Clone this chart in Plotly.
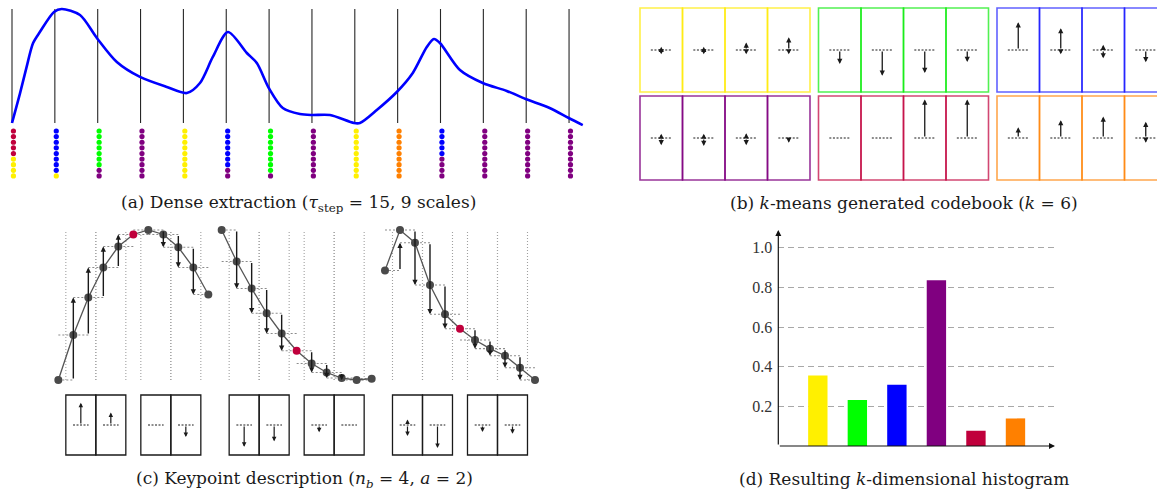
import numpy as np
import plotly.graph_objects as go

W, H = 1157, 490

# ---------------------------------------------------------------- data
# visual words, in codebook order
WORD_NAMES = ["yellow", "green", "blue", "purple", "red", "orange"]
WORD_COLORS = ["#FFF000", "#00FF00", "#0000FF", "#800080", "#C0003C", "#FF8000"]
WORD_BORDERS = ["rgba(255,234,0,0.72)", "rgba(0,235,0,0.68)", "rgba(0,0,255,0.62)",
                "rgba(128,0,128,0.8)", "rgba(192,0,60,0.72)", "rgba(255,128,0,0.7)"]

# (a) time series samples (t, value)
SIGNAL_T = [0, 2.8, 5.1, 7.35, 9.8, 14.7, 17.4, 23.8, 29.7, 36.7, 44.8, 54.2, 61.2,
            65.8, 70.3, 75.6, 82.2, 85.7, 89.9, 94.8, 100.8, 105, 111.3, 119.7, 121.8,
            127.7, 134.7, 140.3, 145.2, 147.7, 149.8, 156.8, 164.8, 173.2, 179.8,
            188.2, 194.9, 199.8]
SIGNAL_V = [0.0, 0.26, 0.49, 0.70, 0.80, 0.974, 1.0, 0.947, 0.746, 0.535, 0.404, 0.316,
            0.263, 0.351, 0.579, 0.798, 0.614, 0.526, 0.307, 0.132, 0.079, 0.07, 0.07,
            0.0, 0.0, 0.114, 0.272, 0.439, 0.667, 0.737, 0.702, 0.465, 0.351, 0.281,
            0.211, 0.132, 0.044, -0.018]
TAU_STEP = 15
N_SCALES = 9

# word assigned to each keypoint at each of the 9 scales (0=yellow ... 5=orange)
KEYPOINT_WORDS = [
    [4, 4, 4, 4, 4, 0, 0, 0, 0],
    [2, 2, 2, 2, 2, 2, 2, 2, 0],
    [1, 1, 1, 1, 1, 1, 1, 3, 3],
    [3, 3, 3, 3, 3, 3, 3, 3, 3],
    [0, 0, 0, 0, 0, 0, 0, 0, 0],
    [2, 2, 2, 2, 2, 2, 2, 3, 3],
    [1, 1, 1, 1, 1, 1, 1, 1, 3],
    [3, 3, 3, 3, 3, 3, 3, 3, 3],
    [0, 0, 0, 0, 0, 0, 0, 0, 0],
    [5, 5, 5, 5, 5, 5, 5, 5, 5],
    [2, 2, 2, 2, 2, 3, 3, 3, 3],
    [3, 3, 3, 3, 3, 3, 3, 3, 3],
    [3, 3, 3, 3, 3, 3, 3, 3, 3],
    [3, 3, 3, 3, 3, 3, 3, 3, 3],
]

# (b) codebook: per word, positive / negative gradient mass of its 4 blocks
CODEBOOK_UP = [[0.08, 0.08, 0.19, 0.32],
               [0.0, 0.0, 0.0, 0.0],
               [0.70, 0.55, 0.13, 0.0],
               [0.11, 0.11, 0.12, 0.0],
               [0.0, 0.0, 0.97, 0.97],
               [0.27, 0.45, 0.54, 0.41]]
CODEBOOK_DOWN = [[0.11, 0.11, 0.11, 0.11],
                 [0.35, 0.65, 0.58, 0.30],
                 [0.0, 0.11, 0.21, 0.31],
                 [0.18, 0.20, 0.18, 0.12],
                 [0.0, 0.0, 0.0, 0.0],
                 [0.0, 0.0, 0.0, 0.12]]

# (c) three normalised keypoint neighbourhoods (11 samples, keypoint in the middle)
KP_VALUES = [
    [0.00, 0.30, 0.55, 0.75, 0.89, 0.97, 1.00, 0.97, 0.885, 0.75, 0.57],
    [1.00, 0.79, 0.61, 0.445, 0.31, 0.195, 0.11, 0.05, 0.013, 0.0, 0.009],
    [0.73, 1.00, 0.915, 0.633, 0.438, 0.342, 0.267, 0.209, 0.162, 0.082, 0.0],
]
N_BLOCKS = 4
A_STEP = 2

# (d) histogram tick labels
HIST_TICKS = [0.2, 0.4, 0.6, 0.8, 1.0]
HIST_TICKTEXT = ["0.2", "0.4", "0.6", "0.8", "1.0"]


# ---------------------------------------------------------------- helpers
def dom_x(p0, p1):
    return [p0 / W, p1 / W]


def dom_y(p0, p1):
    return [1 - p1 / H, 1 - p0 / H]


def rng(p0, p1, origin, ppu, up=False):
    if up:
        return [(origin - p1) / ppu, (origin - p0) / ppu]
    return [(p0 - origin) / ppu, (p1 - origin) / ppu]


def ref(i):
    return ("x", "y") if i == 1 else (f"x{i}", f"y{i}")


def arrow(i, x, y_from, y_to, width=1.3, size=0.85, color="#1a1a1a"):
    xr, yr = ref(i)
    return dict(xref=xr, yref=yr, axref=xr, ayref=yr, x=x, y=y_to, ax=x, ay=y_from,
                text="", showarrow=True, arrowhead=2, arrowsize=size, arrowwidth=width,
                arrowcolor=color, standoff=0, startstandoff=0)


hidden = dict(visible=False, fixedrange=True)
fig = go.Figure()
annotations = []
shapes = []

# ---------------------------------------------------------------- (a)
A_X0, A_PPT = 12.0, 42.85 / TAU_STEP
A_Y0, A_PPV = 123.0, 114.0
D_Y0, D_STEP = 131.0, 5.62
DOT_SHIFT = 0.5

kp_t = [TAU_STEP * k for k in range(len(KEYPOINT_WORDS))]
vx, vy = [], []
for t in kp_t:
    vx += [t, t, None]
    vy += [0, 1, None]
fig.add_trace(go.Scatter(x=vx, y=vy, mode="lines", line=dict(color="#262626", width=1.1),
                         xaxis="x", yaxis="y", hoverinfo="skip"))
fig.add_trace(go.Scatter(x=SIGNAL_T, y=SIGNAL_V, mode="lines",
                         line=dict(color="#0000FF", width=2.6, shape="spline", smoothing=0.8),
                         xaxis="x", yaxis="y", hoverinfo="skip"))

dx, dy, dc = [], [], []
for t, words in zip(kp_t, KEYPOINT_WORDS):
    for s, w in enumerate(words):
        dx.append(t + DOT_SHIFT)
        dy.append(s)
        dc.append(WORD_COLORS[w])
fig.add_trace(go.Scatter(x=dx, y=dy, mode="markers", marker=dict(size=5.2, color=dc),
                         xaxis="x2", yaxis="y2", hoverinfo="skip"))

# ---------------------------------------------------------------- (b)
CB_X0, CB_PPX = 640.0, 42.5
CB_Y0, CB_PPU = 50.0, 39.7
GROUP_DX = 4.2
ROW_DY = 88.0 / CB_PPU
CELL_HALF_H = 42.0 / CB_PPU
DASH_HALF = 0.245

cb_dx, cb_dy = [], []
for g in range(len(WORD_NAMES)):
    col, row = g % 3, g // 3
    x0 = col * GROUP_DX
    yc = -row * ROW_DY
    for c in range(4):
        shapes.append(dict(type="rect", xref="x3", yref="y3",
                           x0=x0 + c, x1=x0 + c + 1,
                           y0=yc - CELL_HALF_H, y1=yc + CELL_HALF_H,
                           line=dict(color=WORD_BORDERS[g], width=1.6), layer="below"))
        xc = x0 + c + 0.5
        cb_dx += [xc - DASH_HALF, xc + DASH_HALF, None]
        cb_dy += [yc, yc, None]
        up, dn = CODEBOOK_UP[g][c], CODEBOOK_DOWN[g][c]
        if up > 0:
            annotations.append(arrow(3, xc, yc, yc + up, width=1.3, size=0.8))
        if dn > 0:
            annotations.append(arrow(3, xc, yc, yc - dn, width=1.3, size=0.8))
fig.add_trace(go.Scatter(x=cb_dx, y=cb_dy, mode="lines",
                         line=dict(color="#1a1a1a", width=1, dash="2px,1.6px"),
                         xaxis="x3", yaxis="y3", hoverinfo="skip"))

# ---------------------------------------------------------------- (c)
C_X0, C_PPS = 58.33, 15.0
SEG_SHIFT = 163.33 / C_PPS
C_Y0, C_PPV = 380.0, 150.0
DS_Y0, DS_PPU = 425.0, 28.3
DS_HALF_H = 30.0 / DS_PPU

n_pts = len(KP_VALUES[0])
center = n_pts // 2
# blocks of A_STEP gradient positions on each side of the keypoint
left = list(range(1, center))
right = list(range(center + 1, n_pts - 1))
blocks = [left[i:i + A_STEP] for i in range(0, len(left), A_STEP)] + \
         [right[i:i + A_STEP] for i in range(0, len(right), A_STEP)]

grid_x, grid_y = [], []
hx, hy = [], []
cx, cy = [], []
gx, gy = [], []
rx, ry = [], []
ds_dx, ds_dy = [], []
for s, v in enumerate(KP_VALUES):
    off = s * SEG_SHIFT
    xs = [off + i for i in range(n_pts)]
    # block borders
    for b in blocks:
        for e in (b[0] - 0.5, b[-1] + 0.5):
            grid_x += [off + e, off + e, None]
            grid_y += [0, 1, None]
    # step levels
    for i in range(n_pts):
        xa = xs[max(i - 1, 0)]
        xb = xs[min(i + 1, n_pts - 1)]
        hx += [xa, xb, None]
        hy += [v[i], v[i], None]
    cx += xs + [None]
    cy += list(v) + [None]
    for i in range(n_pts):
        if i == center:
            rx.append(xs[i]); ry.append(v[i])
        else:
            gx.append(xs[i]); gy.append(v[i])
    # local gradients
    grads = {j: v[j + 1] - v[j - 1] for j in range(1, n_pts - 1)}
    for j in left + right:
        if abs(grads[j]) > 0.004:
            annotations.append(arrow(4, xs[j], v[j - 1], v[j + 1], width=1.4, size=0.75))
    ups = [sum(max(grads[j], 0) for j in b) for b in blocks]
    dns = [sum(max(-grads[j], 0) for j in b) for b in blocks]
    norm = np.linalg.norm(ups + dns)
    ups = [u / norm for u in ups]
    dns = [d / norm for d in dns]
    for bi, b in enumerate(blocks):
        xa, xb = off + b[0] - 0.5, off + b[-1] + 0.5
        shapes.append(dict(type="rect", xref="x5", yref="y5", x0=xa, x1=xb,
                           y0=-DS_HALF_H, y1=DS_HALF_H,
                           line=dict(color="#1a1a1a", width=1.3), layer="below"))
        xc = (xa + xb) / 2
        ds_dx += [xc - 0.52, xc + 0.52, None]
        ds_dy += [0, 0, None]
        if ups[bi] > 0.01:
            annotations.append(arrow(5, xc, 0, ups[bi], width=1.2, size=0.75))
        if dns[bi] > 0.01:
            annotations.append(arrow(5, xc, 0, -dns[bi], width=1.2, size=0.75))

fig.add_trace(go.Scatter(x=grid_x, y=grid_y, mode="lines",
                         line=dict(color="#a0a0a0", width=1.1, dash="1px,2px"),
                         xaxis="x4", yaxis="y4", hoverinfo="skip"))
fig.add_trace(go.Scatter(x=hx, y=hy, mode="lines",
                         line=dict(color="#8c8c8c", width=1.1, dash="2px,2px"),
                         xaxis="x4", yaxis="y4", hoverinfo="skip"))
fig.add_trace(go.Scatter(x=cx, y=cy, mode="lines", line=dict(color="#555555", width=1.3),
                         xaxis="x4", yaxis="y4", hoverinfo="skip"))
fig.add_trace(go.Scatter(x=gx, y=gy, mode="markers", marker=dict(size=8, color="#4a4a4a"),
                         xaxis="x4", yaxis="y4", hoverinfo="skip"))
fig.add_trace(go.Scatter(x=rx, y=ry, mode="markers", marker=dict(size=8, color="#C0003C"),
                         xaxis="x4", yaxis="y4", hoverinfo="skip"))
fig.add_trace(go.Scatter(x=ds_dx, y=ds_dy, mode="lines",
                         line=dict(color="#1a1a1a", width=1, dash="2px,1.5px"),
                         xaxis="x5", yaxis="y5", hoverinfo="skip"))

# ---------------------------------------------------------------- (d)
counts = np.zeros(len(WORD_NAMES))
for words in KEYPOINT_WORDS:
    for w in words:
        counts[w] += 1
hist = counts / np.linalg.norm(counts)
HX = list(range(1, len(WORD_NAMES) + 1))
fig.add_trace(go.Bar(x=HX, y=hist, width=0.49, marker=dict(color=WORD_COLORS, line_width=0),
                     xaxis="x6", yaxis="y6", hoverinfo="skip"))
Y6_TOP = (446 - 230) / 198.3
X6_RIGHT = 7.0
annotations.append(arrow(6, 0, 0, Y6_TOP, width=1.2, size=1.0, color="#111111"))
xr6, yr6 = ref(6)
annotations.append(dict(xref=xr6, yref=yr6, axref=xr6, ayref=yr6, x=X6_RIGHT, y=0, ax=0, ay=0,
                        text="", showarrow=True, arrowhead=2, arrowsize=1.0, arrowwidth=1.2,
                        arrowcolor="#111111", standoff=0, startstandoff=0))

# ---------------------------------------------------------------- captions
CAP_FONT = dict(family="DejaVu Serif", size=17, color="#1a1a1a")
captions = [
    (298, 203, "(a) Dense extraction (<i>τ</i><sub>step</sub> = 15, 9 scales)"),
    (904, 203, "(b) <i>k</i>-means generated codebook (<i>k</i> = 6)"),
    (304, 479, "(c) Keypoint description (<i>n</i><sub><i>b</i></sub> = 4, <i>a</i> = 2)"),
    (904, 479, "(d) Resulting <i>k</i>-dimensional histogram"),
]
for x, y, txt in captions:
    annotations.append(dict(xref="paper", yref="paper", x=x / W, y=1 - y / H, text=txt,
                            showarrow=False, xanchor="center", yanchor="middle", font=CAP_FONT))

# ---------------------------------------------------------------- layout
layout = dict(
    width=W, height=H, margin=dict(l=0, r=0, t=0, b=0),
    paper_bgcolor="white", plot_bgcolor="rgba(0,0,0,0)", showlegend=False,
    xaxis=dict(hidden, domain=dom_x(0, 600), range=rng(0, 600, A_X0, A_PPT), anchor="y"),
    yaxis=dict(hidden, domain=dom_y(0, 130), range=rng(0, 130, A_Y0, A_PPV, up=True), anchor="x"),
    xaxis2=dict(hidden, domain=dom_x(0, 600), range=rng(0, 600, A_X0, A_PPT), anchor="y2"),
    yaxis2=dict(hidden, domain=dom_y(124, 184),
                range=[(184 - D_Y0) / D_STEP, (124 - D_Y0) / D_STEP], anchor="x2"),
    xaxis3=dict(hidden, domain=dom_x(600, W), range=rng(600, W, CB_X0, CB_PPX), anchor="y3"),
    yaxis3=dict(hidden, domain=dom_y(0, 190), range=rng(0, 190, CB_Y0, CB_PPU, up=True), anchor="x3"),
    xaxis4=dict(hidden, domain=dom_x(0, 600), range=rng(0, 600, C_X0, C_PPS), anchor="y4"),
    yaxis4=dict(hidden, domain=dom_y(220, 390), range=rng(220, 390, C_Y0, C_PPV, up=True), anchor="x4"),
    xaxis5=dict(hidden, domain=dom_x(0, 600), range=rng(0, 600, C_X0, C_PPS), anchor="y5"),
    yaxis5=dict(hidden, domain=dom_y(390, 462), range=rng(390, 462, DS_Y0, DS_PPU, up=True), anchor="x5"),
    xaxis6=dict(domain=dom_x(778.3, 1055), range=[0, X6_RIGHT], anchor="y6",
                showgrid=False, zeroline=False, showline=False, showticklabels=False,
                ticks="", fixedrange=True),
    yaxis6=dict(domain=dom_y(230, 446), range=[0, Y6_TOP], anchor="x6",
                tickvals=HIST_TICKS, ticktext=HIST_TICKTEXT, ticks="", ticklabelstandoff=5,
                tickfont=dict(family="Liberation Serif", size=16, color="#333333"),
                showgrid=True, gridcolor="#a8a8a8", gridwidth=1, griddash="6px,4px",
                zeroline=False, showline=False, fixedrange=True),
    annotations=annotations,
    shapes=shapes,
)
fig.update_layout(**layout)
fig.write_html("out.html")
